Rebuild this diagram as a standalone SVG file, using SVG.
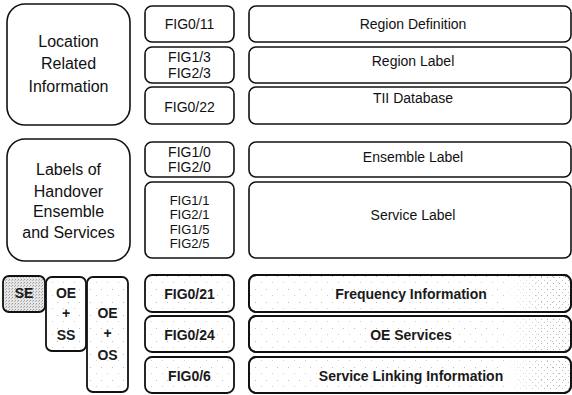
<svg xmlns="http://www.w3.org/2000/svg" width="572" height="395" viewBox="0 0 572 395">
  <defs>
    <!-- sparse stipple used for the lower row of boxes -->
    <pattern id="stipple" width="11" height="13" patternUnits="userSpaceOnUse">
      <rect width="11" height="13" fill="#fff"/>
      <rect x="2" y="3" width="1" height="1" fill="#bdbdbd"/>
      <rect x="8" y="9" width="1" height="1" fill="#cfcfcf"/>
    </pattern>
    <!-- somewhat denser stipple towards the right-hand end of the wide boxes -->
    <pattern id="stippleDense" width="6" height="6" patternUnits="userSpaceOnUse">
      <rect x="1" y="1" width="1" height="1" fill="#b0b0b0"/>
      <rect x="4" y="4" width="1" height="1" fill="#c4c4c4"/>
    </pattern>
    <!-- dark stipple for the SE box -->
    <pattern id="stippleDark" width="3" height="3" patternUnits="userSpaceOnUse">
      <rect width="3" height="3" fill="#e6e6e6"/>
      <rect x="0" y="0" width="1" height="1" fill="#9a9a9a"/>
      <rect x="2" y="1" width="1" height="1" fill="#b4b4b4"/>
    </pattern>
    <linearGradient id="fadeIn" x1="0" x2="1" y1="0" y2="0">
      <stop offset="0" stop-color="#fff" stop-opacity="1"/>
      <stop offset="1" stop-color="#fff" stop-opacity="0"/>
    </linearGradient>
    <style>
      .box { fill: #fff; stroke: #111; stroke-width: 1.6; }
      .dot { fill: url(#stipple); stroke: #111; stroke-width: 1.8; }
      .edge { fill: none; stroke: #111; stroke-width: 1.8; }
      .big { font-family: "Liberation Sans", Arial, sans-serif; font-size: 16px; fill: #111; text-anchor: middle; }
      .fig { font-family: "Liberation Sans", Arial, sans-serif; font-size: 14px; fill: #111; text-anchor: middle; }
      .fig4 { font-family: "Liberation Sans", Arial, sans-serif; font-size: 13px; fill: #111; text-anchor: middle; }
      .lbl { font-family: "Liberation Sans", Arial, sans-serif; font-size: 14px; fill: #111; text-anchor: middle; }
      .bld { font-family: "Liberation Sans", Arial, sans-serif; font-size: 14px; font-weight: bold; fill: #1a1a1a; text-anchor: middle; }
    </style>
  </defs>

  <rect width="572" height="395" fill="#fff"/>

  <!-- left-hand category boxes -->
  <g id="location-related">
    <rect class="box" x="7" y="4" width="123" height="121" rx="18"/>
    <text class="big" x="68.5" y="47">Location</text>
    <text class="big" x="68.5" y="69">Related</text>
    <text class="big" x="68.5" y="92">Information</text>
  </g>
  <g id="handover-labels">
    <rect class="box" x="7" y="139" width="123" height="122" rx="18"/>
    <text class="big" x="68.5" y="175">Labels of</text>
    <text class="big" x="68.5" y="197">Handover</text>
    <text class="big" x="68.5" y="217">Ensemble</text>
    <text class="big" x="68.5" y="238">and Services</text>
  </g>

  <!-- FIG columns, upper part -->
  <g id="fig0-11">
    <rect class="box" x="145" y="6" width="89" height="36" rx="7"/>
    <text class="fig" x="189.5" y="29">FIG0/11</text>
  </g>
  <g id="fig1-3">
    <rect class="box" x="145" y="47" width="89" height="36" rx="7"/>
    <text class="fig" x="189.5" y="62">FIG1/3</text>
    <text class="fig" x="189.5" y="78">FIG2/3</text>
  </g>
  <g id="fig0-22">
    <rect class="box" x="145" y="87" width="89" height="37" rx="7"/>
    <text class="fig" x="189.5" y="112">FIG0/22</text>
  </g>
  <g id="fig1-0">
    <rect class="box" x="145" y="142" width="89" height="35" rx="7"/>
    <text class="fig" x="189.5" y="157">FIG1/0</text>
    <text class="fig" x="189.5" y="172">FIG2/0</text>
  </g>
  <g id="fig1-1">
    <rect class="box" x="145" y="182" width="89" height="76" rx="7"/>
    <text class="fig4" x="189.5" y="205">FIG1/1</text>
    <text class="fig4" x="189.5" y="219">FIG2/1</text>
    <text class="fig4" x="189.5" y="234">FIG1/5</text>
    <text class="fig4" x="189.5" y="248">FIG2/5</text>
  </g>

  <!-- wide description boxes, upper part -->
  <g id="region-definition">
    <rect class="box" x="249" y="6" width="322" height="36" rx="7"/>
    <text class="lbl" x="413" y="29">Region Definition</text>
  </g>
  <g id="region-label">
    <rect class="box" x="249" y="47" width="322" height="36" rx="7"/>
    <text class="lbl" x="413" y="66">Region Label</text>
  </g>
  <g id="tii-database">
    <rect class="box" x="249" y="87" width="322" height="37" rx="7"/>
    <text class="lbl" x="413" y="103">TII Database</text>
  </g>
  <g id="ensemble-label">
    <rect class="box" x="249" y="142" width="322" height="35" rx="7"/>
    <text class="lbl" x="413" y="162">Ensemble Label</text>
  </g>
  <g id="service-label">
    <rect class="box" x="249" y="182" width="322" height="76" rx="7"/>
    <text class="lbl" x="413" y="220">Service Label</text>
  </g>

  <!-- lower part: shaded handover types -->
  <g id="se">
    <rect x="3" y="276" width="42" height="36" rx="6" fill="url(#stippleDark)" stroke="#111" stroke-width="1.8"/>
    <text class="bld" x="24" y="298">SE</text>
  </g>
  <g id="oe-ss">
    <rect class="dot" x="46" y="277" width="40" height="74" rx="6"/>
    <text class="bld" x="66" y="298">OE</text>
    <text class="bld" x="66" y="318">+</text>
    <text class="bld" x="66" y="340">SS</text>
  </g>
  <g id="oe-os">
    <rect class="dot" x="87" y="277" width="41" height="115" rx="6"/>
    <text class="bld" x="107.5" y="318">OE</text>
    <text class="bld" x="107.5" y="338">+</text>
    <text class="bld" x="107.5" y="360">OS</text>
  </g>

  <g id="fig0-21">
    <rect class="dot" x="145" y="275" width="89" height="37" rx="7"/>
    <text class="bld" x="189.5" y="299">FIG0/21</text>
  </g>
  <g id="fig0-24">
    <rect class="dot" x="145" y="316" width="89" height="36" rx="7"/>
    <text class="bld" x="189.5" y="340">FIG0/24</text>
  </g>
  <g id="fig0-6">
    <rect class="dot" x="145" y="357" width="89" height="36" rx="7"/>
    <text class="bld" x="189.5" y="381">FIG0/6</text>
  </g>

  <!-- wide description boxes, lower part: sparse stipple, heavier at the right end -->
  <g id="frequency-information">
    <rect class="dot" x="249" y="275" width="322" height="37" rx="7"/>
    <rect x="505" y="277" width="64" height="33" fill="url(#stippleDense)"/>
    <rect x="505" y="277" width="40" height="33" fill="url(#fadeIn)"/>
    <rect class="edge" x="249" y="275" width="322" height="37" rx="7"/>
    <text class="bld" x="411" y="299">Frequency Information</text>
  </g>
  <g id="oe-services">
    <rect class="dot" x="249" y="316" width="322" height="36" rx="7"/>
    <rect x="505" y="318" width="64" height="32" fill="url(#stippleDense)"/>
    <rect x="505" y="318" width="40" height="32" fill="url(#fadeIn)"/>
    <rect class="edge" x="249" y="316" width="322" height="36" rx="7"/>
    <text class="bld" x="411" y="340">OE Services</text>
  </g>
  <g id="service-linking">
    <rect class="dot" x="249" y="357" width="322" height="36" rx="7"/>
    <rect x="505" y="359" width="64" height="32" fill="url(#stippleDense)"/>
    <rect x="505" y="359" width="40" height="32" fill="url(#fadeIn)"/>
    <rect class="edge" x="249" y="357" width="322" height="36" rx="7"/>
    <text class="bld" x="411" y="381">Service Linking Information</text>
  </g>
</svg>
